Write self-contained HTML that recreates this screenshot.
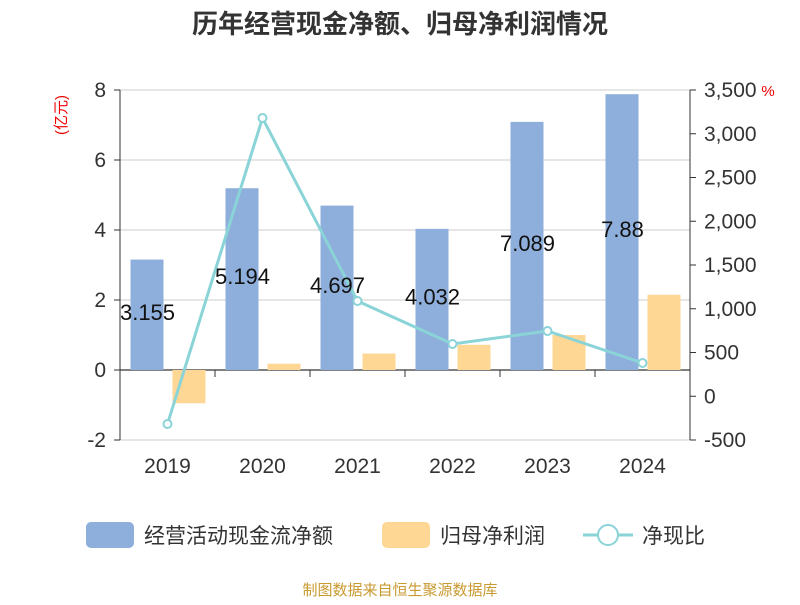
<!DOCTYPE html>
<html><head><meta charset="utf-8"><style>
body{margin:0;background:#fff}
text{font-family:"Liberation Sans","Noto Sans CJK SC",sans-serif}
</style></head><body>
<svg id="c" width="800" height="600" xmlns="http://www.w3.org/2000/svg">
<text x="400" y="33" text-anchor="middle" font-size="26" font-weight="bold" fill="#333">历年经营现金净额、归母净利润情况</text>
<text transform="translate(66,115) rotate(-90)" text-anchor="middle" font-size="15" fill="#e00">(亿元)</text>
<text x="768" y="96" text-anchor="middle" font-size="15" fill="#e00">%</text>
<g id="grid"></g><g id="bars"></g><g id="line"></g><g id="labels"></g>
<g>
<rect x="86" y="522" width="48" height="26" rx="5" fill="#8eaedb"/>
<text x="144" y="543" font-size="21" fill="#333">经营活动现金流净额</text>
<rect x="382" y="522" width="48" height="26" rx="5" fill="#fed795"/>
<text x="440" y="543" font-size="21" fill="#333">归母净利润</text>
<line x1="583" y1="535" x2="633" y2="535" stroke="#8ad4d8" stroke-width="3"/>
<circle cx="608" cy="535" r="10" fill="#fff" stroke="#8ad4d8" stroke-width="2"/>
<text x="642" y="543" font-size="21" fill="#333">净现比</text>
</g>
<text x="400" y="595" text-anchor="middle" font-size="15" fill="#c89a30">制图数据来自恒生聚源数据库</text>
</svg>
<script>
const categories=["2019","2020","2021","2022","2023","2024"];
const cashFlow=[3.155,5.194,4.697,4.032,7.089,7.88];
const netProfit=[-0.95,0.18,0.47,0.72,1.0,2.15];
const ratio=[-317,3180,1088,597,746,380];
const leftTicks=[-2,0,2,4,6,8];
const rightTicks=["-500","0","500","1,000","1,500","2,000","2,500","3,000","3,500"];
const rightTickVals=[-500,0,500,1000,1500,2000,2500,3000,3500];
const NS="http://www.w3.org/2000/svg";
const X0=120,X1=690,YT=90,YB=440;
const yL=v=>YT+(8-v)*(YB-YT)/10;
const yR=v=>YT+(3500-v)*(YB-YT)/4000;
const bw=(X1-X0)/categories.length;
const xc=i=>X0+bw*(i+0.5);
function mk(tag,attrs,parent,txt){const e=document.createElementNS(NS,tag);for(const k in attrs)e.setAttribute(k,attrs[k]);if(txt!==undefined)e.textContent=txt;document.getElementById(parent).appendChild(e);return e;}
leftTicks.forEach(v=>{
 const g=mk('line',{x1:X0,x2:X1,y1:yL(v),y2:yL(v),stroke:v===0?'#000':'#ccc','stroke-width':1},'grid');
 
 
 const t=mk('text',{x:X0-14,y:yL(v)+7,'text-anchor':'end','font-size':21,fill:'#333'},'grid',String(v));
 
 
});
rightTickVals.forEach((v,i)=>{
 const t=mk('text',{x:X1+14,y:yR(v)+7,'font-size':21,fill:'#333'},'grid',rightTicks[i]);
 
 
 const k=mk('line',{x1:X1,x2:X1+6,y1:yR(v),y2:yR(v),stroke:'#333'},'grid');
 
 
});
leftTicks.forEach(v=>{const k=mk('line',{x1:X0-6,x2:X0,y1:yL(v),y2:yL(v),stroke:'#333'},'grid');
 
 });
let a=mk('line',{x1:X0,x2:X0,y1:YT,y2:YB,stroke:'#333'},'grid');


a=mk('line',{x1:X1,x2:X1,y1:YT,y2:YB,stroke:'#333'},'grid');


for(let i=0;i<=categories.length;i++){const k=mk('line',{x1:X0+bw*i,x2:X0+bw*i,y1:yL(0),y2:yL(0)+7,stroke:'#333'},'grid');
 
 }
categories.forEach((c,i)=>{
 const t=mk('text',{x:xc(i),y:473,'text-anchor':'middle','font-size':21,fill:'#333'},'grid',c);
 
 
 const v=cashFlow[i],y0=yL(0),y1=yL(v);
 const b=mk('rect',{x:xc(i)-37,y:Math.min(y0,y1),width:33,height:Math.abs(y0-y1),fill:'#8eaedb'},'bars');
 
 
 const p=netProfit[i],y2=yL(p);
 const b2=mk('rect',{x:xc(i)+5,y:Math.min(y0,y2),width:33,height:Math.abs(y0-y2),fill:'#fed795'},'bars');
 
 
 const l=mk('text',{x:xc(i)-20,y:(y0+y1)/2+5,'text-anchor':'middle','font-size':22,fill:'#111'},'labels',String(v));
 
 
});
const pl=mk('polyline',{points:ratio.map((v,i)=>xc(i)+','+yR(v)).join(' '),fill:'none',stroke:'#8ad4d8','stroke-width':3},'line');


ratio.forEach((v,i)=>{const m=mk('circle',{cx:xc(i),cy:yR(v),r:4,fill:'#fff',stroke:'#8ad4d8','stroke-width':2},'line');
 
 });
</script>
</body></html>
